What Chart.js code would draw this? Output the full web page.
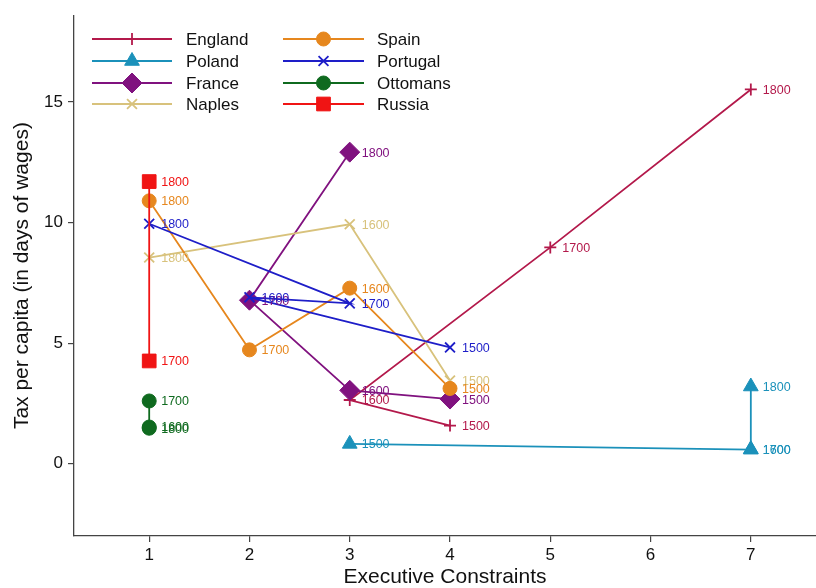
<!DOCTYPE html>
<html>
<head>
<meta charset="utf-8">
<script src="https://cdn.jsdelivr.net/npm/chart.js@4.4.1/dist/chart.umd.min.js"></script>
<style>
  html, body { margin: 0; padding: 0; background: #fff; overflow: hidden; }
  #wrap { width: 816px; height: 588px; }
  canvas { display: block; }
</style>
</head>
<body>
<div id="wrap"><canvas id="chart"></canvas></div>
<script>
// years of each observation
const years = [1500, 1600, 1700, 1800];

// executive constraints (x) and tax per capita (y), one value per year, null = missing
const englandX = [4, 3, 5, 7];
const englandY = [1.58, 2.64, 8.97, 15.52];
const polandX = [3, 7, 7, 7];
const polandY = [0.82, 0.58, 0.6, 3.2];
const franceX = [4, 3, 2, 3];
const franceY = [2.68, 3.04, 6.78, 12.92];
const naplesX = [4, 3, null, 1];
const naplesY = [3.45, 9.93, null, 8.55];
const spainX = [4, 3, 2, 1];
const spainY = [3.12, 7.28, 4.72, 10.9];
const portugalX = [4, 2, 3, 1];
const portugalY = [4.82, 6.9, 6.65, 9.95];
const ottomansX = [null, 1, 1, 1];
const ottomansY = [null, 1.52, 2.6, 1.47];
const russiaX = [null, null, 1, 1];
const russiaY = [null, null, 4.26, 11.7];

const xTicks = [1, 2, 3, 4, 5, 6, 7];
const yTicks = [0, 5, 10, 15];

const FONT = '"Liberation Sans", Arial, Helvetica, sans-serif';

function points(xs, ys) {
    const out = [];
    years.forEach((yr, i) => {
        if (xs[i] !== null && ys[i] !== null) out.push({ x: xs[i], y: ys[i], year: yr });
    });
    return out;
}

function series(label, xs, ys, color, style, radius, bw, order) {
    return {
        label: label,
        data: points(xs, ys),
        borderColor: color,
        backgroundColor: color,
        borderWidth: 1.8,
        pointStyle: style,
        pointRadius: radius,
        pointHoverRadius: radius,
        pointBackgroundColor: color,
        pointBorderColor: color,
        pointBorderWidth: bw,
        showLine: true,
        fill: false,
        tension: 0,
        order: order
    };
}

const datasets = [
    series('England', englandX, englandY, '#b3194b', 'cross', 6, 1.8, 8),
    series('Poland', polandX, polandY, '#1b91ba', 'triangle', 8.5, 1, 7),
    series('France', franceX, franceY, '#80127f', 'rectRot', 10, 1, 6),
    series('Naples', naplesX, naplesY, '#d8c27c', 'crossRot', 7, 1.8, 5),
    series('Spain', spainX, spainY, '#e6871e', 'circle', 7, 1, 4),
    series('Portugal', portugalX, portugalY, '#1e1ec8', 'crossRot', 7, 1.8, 3),
    series('Ottomans', ottomansX, ottomansY, '#0f6a1f', 'circle', 7, 1, 2),
    series('Russia', russiaX, russiaY, '#f01414', 'rect', 9.7, 1, 1)
];

// year labels next to each marker
const yearLabels = {
    id: 'yearLabels',
    afterDatasetsDraw(chart) {
        const ctx = chart.ctx;
        ctx.save();
        ctx.font = '12.5px ' + FONT;
        ctx.textBaseline = 'middle';
        ctx.textAlign = 'left';
        chart.data.datasets.forEach((ds, i) => {
            const meta = chart.getDatasetMeta(i);
            ctx.fillStyle = ds.borderColor;
            meta.data.forEach((pt, j) => {
                ctx.fillText(String(ds.data[j].year), pt.x + 12, pt.y + 1);
            });
        });
        ctx.restore();
    }
};

// two-column legend inside the plot, filled column by column
const colLegend = {
    id: 'colLegend',
    afterDraw(chart) {
        const ctx = chart.ctx;
        const cols = [{ x0: 92, x1: 172, tx: 186 }, { x0: 283, x1: 364, tx: 377 }];
        const rows = [39, 61, 83, 104];
        ctx.save();
        chart.data.datasets.forEach((ds, i) => {
            const c = cols[Math.floor(i / 4)];
            const y = rows[i % 4];
            ctx.strokeStyle = ds.borderColor;
            ctx.lineWidth = ds.borderWidth;
            ctx.beginPath();
            ctx.moveTo(c.x0, y);
            ctx.lineTo(c.x1, y);
            ctx.stroke();
            ctx.fillStyle = ds.borderColor;
            ctx.lineWidth = ds.pointBorderWidth;
            Chart.helpers.drawPoint(ctx, {
                pointStyle: ds.pointStyle,
                radius: ds.pointRadius,
                rotation: 0,
                borderWidth: ds.pointBorderWidth
            }, (c.x0 + c.x1) / 2, y);
            ctx.fillStyle = '#111';
            ctx.font = '17px ' + FONT;
            ctx.textBaseline = 'middle';
            ctx.textAlign = 'left';
            ctx.fillText(ds.label, c.tx, y + 1);
        });
        ctx.restore();
    }
};

new Chart(document.getElementById('chart').getContext('2d'), {
    type: 'scatter',
    data: { datasets: datasets },
    plugins: [yearLabels, colLegend],
    options: {
        responsive: true,
        maintainAspectRatio: false,
        animation: false,
        layout: { autoPadding: false, padding: { top: 12, right: 0, left: 0, bottom: 0 } },
        plugins: {
            legend: { display: false },
            tooltip: { enabled: false }
        },
        scales: {
            x: {
                type: 'linear',
                min: 0.25,
                max: 7.65,
                afterBuildTicks: s => { s.ticks = xTicks.map(v => ({ value: v })); },
                afterFit: s => { s.height = 52; },
                grid: { drawOnChartArea: false, drawTicks: true, tickLength: 6, color: '#444', lineWidth: 1.2 },
                border: { display: true, color: '#444', width: 1.3 },
                ticks: { color: '#111', font: { family: FONT, size: 17 }, padding: 3, maxRotation: 0 },
                title: {
                    display: true,
                    text: 'Executive Constraints',
                    color: '#111',
                    font: { family: FONT, size: 21, lineHeight: 1.0 },
                    padding: { top: 0, bottom: 0 }
                }
            },
            y: {
                type: 'linear',
                min: -3,
                max: 18.6,
                afterBuildTicks: s => { s.ticks = yTicks.map(v => ({ value: v })); },
                afterFit: s => { s.width = 74; },
                grid: { drawOnChartArea: false, drawTicks: true, tickLength: 6, color: '#444', lineWidth: 1.2 },
                border: { display: true, color: '#444', width: 1.3 },
                ticks: { color: '#111', font: { family: FONT, size: 17 }, padding: 5 },
                title: {
                    display: true,
                    text: 'Tax per capita (in days of wages)',
                    color: '#111',
                    font: { family: FONT, size: 21 },
                    padding: { top: 10, bottom: 0 }
                }
            }
        }
    }
});
</script>
</body>
</html>
